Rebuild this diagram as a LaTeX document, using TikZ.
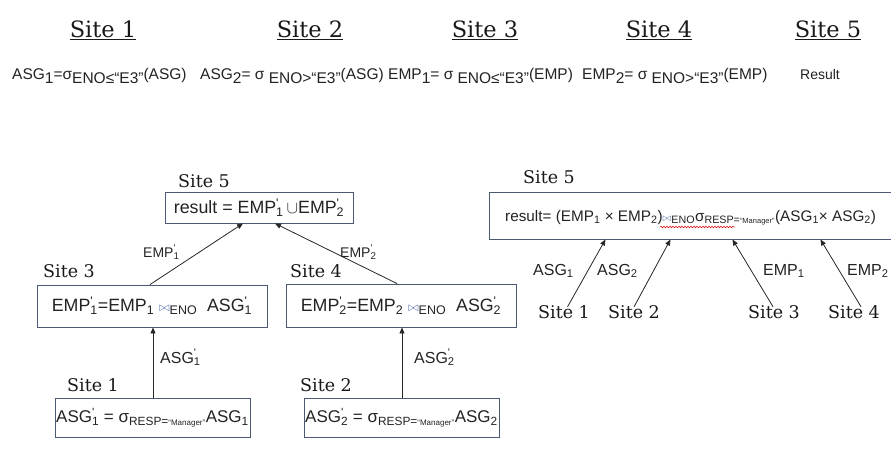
\documentclass[tikz,border=0pt]{standalone}
\usepackage{fontspec}
\usepackage{graphicx}
\newfontfamily\arialf{Liberation Sans}
\newfontfamily\serf{DejaVu Serif}
\usetikzlibrary{arrows.meta,decorations.pathmorphing}
\definecolor{boxc}{RGB}{75,90,115}
\definecolor{txt}{RGB}{35,35,35}
\definecolor{bowc}{RGB}{80,105,170}
\newcommand\lo[1]{\raisebox{-0.3em}{#1}}
\newcommand\pq[2]{\rlap{\textsuperscript{#1}}\textsubscript{#2}}
\newcommand\bw{{\color{bowc}\scalebox{0.75}{$\bowtie$}}}
\tikzset{
  hdr/.style={font=\serf\fontsize{22.5}{26}\selectfont, inner sep=0, anchor=base, text=black!90},
  row/.style={font=\arialf\fontsize{15.5}{18}\selectfont, inner sep=0, anchor=base west, text=txt},
  sitelab/.style={font=\serf\fontsize{17.5}{21}\selectfont, inner sep=0, anchor=base west, text=black!90},
  rbox/.style={draw=boxc, line width=0.9pt, inner sep=0, font=\arialf\fontsize{17.8}{20}\selectfont, text=txt},
  lab/.style={font=\arialf\fontsize{16}{19}\selectfont, inner sep=0, anchor=base west, text=txt},
  arr/.style={-{Triangle[length=6pt,width=5pt]}, line width=0.8pt, draw=black!85}
}
\begin{document}
\begin{tikzpicture}[x=1pt,y=-1pt]
\path[use as bounding box] (0,0) rectangle (891,464);
\clip (0,0) rectangle (891,464);
% headers
\node[hdr] (h1) at (103,37) {\underline{Site 1}};
\node[hdr] (h2) at (310,37) {\underline{Site 2}};
\node[hdr] (h3) at (485,37) {\underline{Site 3}};
\node[hdr] (h4) at (659,37) {\underline{Site 4}};
\node[hdr] (h5) at (828,37) {\underline{Site 5}};
% fragment definitions
\node[row] (f1) at (12,79) {ASG\lo{1}=σ\lo{ENO≤“E3”}(ASG)};
\node[row] (f2) at (200,79) {ASG\lo{2}= σ \lo{ENO>“E3”}(ASG)};
\node[row] (f3) at (388,79) {EMP\lo{1}= σ \lo{ENO≤“E3”}(EMP)};
\node[row] (f4) at (582,79) {EMP\lo{2}= σ \lo{ENO>“E3”}(EMP)};
\node[row, font=\arialf\fontsize{14}{17}\selectfont] (f5) at (800,79) {Result};
% left tree
\node[sitelab] (l5) at (178,187) {Site 5};
\node[rbox, minimum width=188, minimum height=31] (r5) at (259,207.5) {result = EMP\pq{'}{1}\,\(\cup\)EMP\pq{'}{2}};
\node[sitelab] (l3) at (43,277) {Site 3};
\node[sitelab] (l4) at (290,277) {Site 4};
\node[rbox, minimum width=230, minimum height=42] (s3) at (152,306) {EMP\pq{'}{1}=EMP\textsubscript{1} \bw\textsubscript{ENO}\ \ ASG\pq{'}{1}};
\node[rbox, minimum width=230, minimum height=43] (s4) at (401,305.5) {EMP\pq{'}{2}=EMP\textsubscript{2} \bw\textsubscript{ENO}\ \ ASG\pq{'}{2}};
\node[sitelab] (l1) at (67,391) {Site 1};
\node[sitelab] (l2) at (300,391) {Site 2};
\node[rbox, font=\arialf\fontsize{17}{20}\selectfont, minimum width=195, minimum height=39] (s1) at (152.5,417.5) {ASG\pq{'}{1} = σ\textsubscript{RESP={\fontsize{8}{9}\selectfont“Manager”}}ASG\textsubscript{1}};
\node[rbox, font=\arialf\fontsize{17}{20}\selectfont, minimum width=195, minimum height=39] (s2) at (401.5,417.5) {ASG\pq{'}{2} = σ\textsubscript{RESP={\fontsize{8}{9}\selectfont“Manager”}}ASG\textsubscript{2}};
\node[lab, font=\arialf\fontsize{14}{17}\selectfont] (e1) at (143,257) {EMP\pq{'}{1}};
\node[lab, font=\arialf\fontsize{14}{17}\selectfont] (e2) at (340,257) {EMP\pq{'}{2}};
\node[lab] (a1) at (160,363) {ASG\pq{'}{1}};
\node[lab] (a2) at (414,363) {ASG\pq{'}{2}};
\draw[arr] ([xshift=-2pt]s3.north) -- ([xshift=-16pt]r5.south);
\draw[arr] ([xshift=-4pt]s4.north) -- ([xshift=16pt]r5.south);
\draw[arr] ([xshift=0.5pt]s1.north) -- ([xshift=1pt]s3.south);
\draw[arr] ([xshift=0.5pt]s2.north) -- ([xshift=1pt]s4.south);
% right tree
\node[sitelab] (rl5) at (523,183) {Site 5};
\node[rbox, minimum width=406, minimum height=47, anchor=west] (R) at (489,215.5) {};
\node[row, font=\arialf\fontsize{15.3}{18}\selectfont] (Rt) at (505,221) {result= (EMP\textsubscript{1} × EMP\textsubscript{2})\bw\textsubscript{ENO}σ\textsubscript{RESP={\fontsize{7.5}{8}\selectfont“Manager”}}(ASG\textsubscript{1}× ASG\textsubscript{2})};
\draw[red!85!black, line width=0.5pt, decorate, decoration={snake, amplitude=0.8pt, segment length=3pt}] (660,227) -- (735,227);
\node[sitelab] (t1) at (538,318) {Site 1};
\node[sitelab] (t2) at (608,318) {Site 2};
\node[sitelab] (t3) at (748,318) {Site 3};
\node[sitelab] (t4) at (828,318) {Site 4};
\node[lab] (b1) at (533,275) {ASG\textsubscript{1}};
\node[lab] (b2) at (597,275) {ASG\textsubscript{2}};
\node[lab] (b3) at (763,275) {EMP\textsubscript{1}};
\node[lab] (b4) at (847,275) {EMP\textsubscript{2}};
\draw[arr] ([xshift=3.5pt,yshift=-2pt]t1.north) -- ([xshift=-87pt]R.south);
\draw[arr] ([yshift=-2pt]t2.north) -- ([xshift=-22pt]R.south);
\draw[arr] ([xshift=-1pt,yshift=-2pt]t3.north) -- ([xshift=40pt]R.south);
\draw[arr] ([xshift=7pt,yshift=-2pt]t4.north) -- ([xshift=128pt]R.south);
\end{tikzpicture}
\end{document}
